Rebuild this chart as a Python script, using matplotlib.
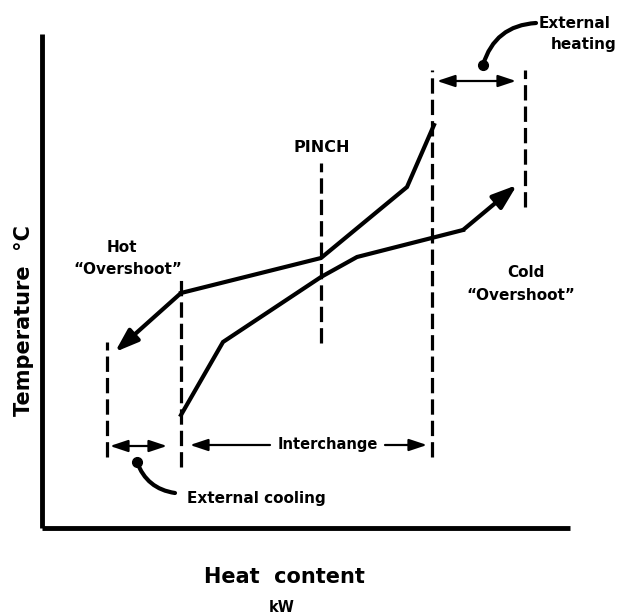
import matplotlib
matplotlib.use("Agg")
import matplotlib.pyplot as plt
from matplotlib.patches import ArrowStyle

# ---- data (heat content / temperature, arbitrary schematic units) ----
hot_q = [73, 139, 279, 365, 392]
hot_T = [176, 235, 270, 341, 403]
cold_q = [139, 181, 279, 315, 421, 475]
cold_T = [113, 186, 251, 271, 298, 343]

# dashed boundary lines: x position, lower end, upper end
bound_q = [65, 139, 279, 390, 483]
bound_lo = [71, 61, 185, 71, 321]
bound_hi = [186, 248, 365, 458, 458]

# spans
cool_span = (68, 125, 82)
inter_span = (148, 385, 83)
heat_span = (395, 474, 447)

W, H = 618, 616
fig = plt.figure(figsize=(W / 100, H / 100), dpi=100)
fig.patch.set_facecolor("white")

ax_l, ax_r, ax_t, ax_b = 42, 570, 34, 528
ax = fig.add_axes([ax_l / W, 1 - ax_b / H, (ax_r - ax_l) / W, (ax_b - ax_t) / H])
ax.set_xlim(0, ax_r - ax_l)
ax.set_ylim(0, ax_b - ax_t)
for s in ["top", "right"]:
    ax.spines[s].set_visible(False)
for s in ["left", "bottom"]:
    ax.spines[s].set_linewidth(3.5)
    ax.spines[s].set_capstyle("butt")
ax.set_xticks([])
ax.set_yticks([])
ax.patch.set_alpha(0)

font = dict(family="DejaVu Sans", weight="bold", color="black")

# curves
head = ArrowStyle("-|>", head_length=1.0, head_width=0.35)
ax.plot(hot_q[1:], hot_T[1:], color="black", lw=3, solid_joinstyle="miter")
ax.annotate("", xy=(hot_q[0], hot_T[0]), xytext=(hot_q[1], hot_T[1]),
            arrowprops=dict(arrowstyle=head, lw=3, color="black",
                            mutation_scale=14, shrinkA=0, shrinkB=0))
ax.plot(cold_q[:-1], cold_T[:-1], color="black", lw=3, solid_joinstyle="miter")
ax.annotate("", xy=(cold_q[-1], cold_T[-1]), xytext=(cold_q[-2], cold_T[-2]),
            arrowprops=dict(arrowstyle=head, lw=3, color="black",
                            mutation_scale=15, shrinkA=0, shrinkB=0))

# dashed boundaries
for q, lo, hi in zip(bound_q, bound_lo, bound_hi):
    ax.plot([q, q], [lo, hi], color="black", lw=2.3, dashes=(4.8, 1.9),
            solid_capstyle="butt", dash_capstyle="butt", clip_on=False)

small_head = ArrowStyle("<|-|>", head_length=0.9, head_width=0.3)
one_head = ArrowStyle("-|>", head_length=0.9, head_width=0.3)
arr_kw = dict(lw=1.6, color="black", mutation_scale=12, shrinkA=0, shrinkB=0)

# cooling span
ax.annotate("", xy=(cool_span[0], cool_span[2]), xytext=(cool_span[1], cool_span[2]),
            arrowprops=dict(arrowstyle=small_head, **arr_kw))
# heating span
ax.annotate("", xy=(heat_span[0], heat_span[2]), xytext=(heat_span[1], heat_span[2]),
            arrowprops=dict(arrowstyle=small_head, **arr_kw), annotation_clip=False)
# interchange
gap_l, gap_r = 228, 343
ax.annotate("", xy=(inter_span[0], inter_span[2]), xytext=(gap_l, inter_span[2]),
            arrowprops=dict(arrowstyle=one_head, **arr_kw))
ax.annotate("", xy=(inter_span[1], inter_span[2]), xytext=(gap_r, inter_span[2]),
            arrowprops=dict(arrowstyle=one_head, **arr_kw))
ax.text((gap_l + gap_r) / 2, inter_span[2], "Interchange", ha="center", va="center",
        fontsize=10.5, **font)

# curved pointer arrows (blob at one end)
ax.annotate("", xy=(494, 505), xytext=(441, 463), annotation_clip=False,
            arrowprops=dict(arrowstyle="-", lw=3, color="black",
                            connectionstyle="arc3,rad=-0.35", shrinkA=0, shrinkB=0))
ax.plot([441], [463], "o", color="black", ms=7, clip_on=False)
ax.annotate("", xy=(133, 35), xytext=(95, 66), annotation_clip=False,
            arrowprops=dict(arrowstyle="-", lw=3, color="black",
                            connectionstyle="arc3,rad=0.3", shrinkA=0, shrinkB=0))
ax.plot([95], [66], "o", color="black", ms=7, clip_on=False)

# annotations (figure-pixel placement)
def ftext(px, py, s, **kw):
    fig.text(px / W, 1 - py / H, s, **kw)

ftext(322, 147, "PINCH", ha="center", va="center", fontsize=11.5, **font)
ftext(122, 247, "Hot", ha="center", va="center", fontsize=11, **font)
ftext(128, 269, "\u201cOvershoot\u201d", ha="center", va="center", fontsize=11, **font)
ftext(526, 273, "Cold", ha="center", va="center", fontsize=11, **font)
ftext(521, 295, "\u201cOvershoot\u201d", ha="center", va="center", fontsize=11, **font)
ftext(539, 23, "External", ha="left", va="center", fontsize=11, **font)
ftext(551, 44, "heating", ha="left", va="center", fontsize=11, **font)
ftext(256, 498, "External cooling", ha="center", va="center", fontsize=11, **font)
ftext(284, 577, "Heat  content", ha="center", va="center", fontsize=15, **font)
ftext(282, 607, "kW", ha="center", va="center", fontsize=10.5, **font)
ftext(24, 321, "Temperature  \u00b0C", ha="center", va="center", rotation=90,
      fontsize=15, **font)

fig.savefig("out.png", dpi=100, facecolor="white")
